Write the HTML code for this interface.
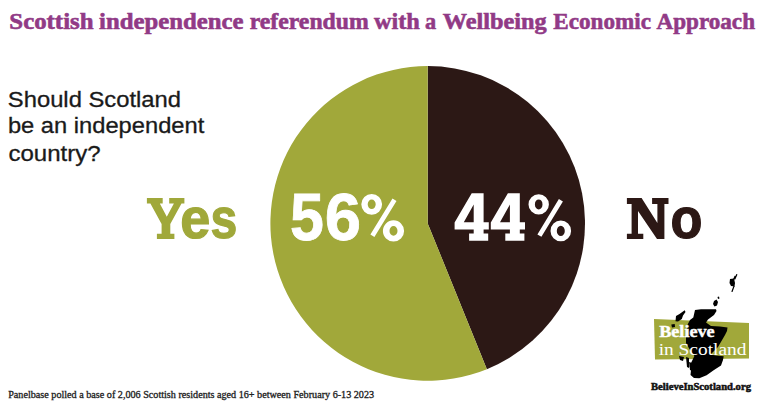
<!DOCTYPE html>
<html><head><meta charset="utf-8">
<style>
html,body{margin:0;padding:0;background:#fff;width:768px;height:410px;overflow:hidden;position:relative}
.t{position:absolute;white-space:nowrap;line-height:1;margin:0;transform-origin:0 0}
svg{position:absolute;left:0;top:0}
</style></head><body>
<svg width="768" height="410" viewBox="0 0 768 410">
  <path d="M427.7 223.4 L427.7 66.10 A157.3 157.3 0 0 1 486.88 369.14 Z" fill="#2c1815"/>
  <path d="M427.7 223.4 L486.88 369.14 A157.3 157.3 0 1 1 427.7 66.10 Z" fill="#a1a83a"/>
  <polygon points="654,319 749,323 749,358.5 655,359.5" fill="#a1a83a"/>
  <g fill="#000">
    <polygon points="695,310 701,309.3 716,309.3 716.5,311 714,315 708,319.5 706,322.5 711,326 720,326.5 727.5,327.5 727,331 725,335 718,347 710.5,354.5 716,355.5 723.7,356.3 723,360 721,365.5 714,370 706.6,375.2 699.3,378.3 694,378 690.5,375 691,370 689.5,366 692,361 694.4,356 690,350 686,343 686,337 687.4,325 690,320 693.3,317.5"/>
    <polygon points="684.7,310.3 685.5,312 683,315.5 681.8,319 678,321.5 675.5,321.2 676,316 679.5,314"/>
    <polygon points="671.3,324.5 674.7,324 675,327 672,327.5"/>
    <polygon points="679,356 684,357 683,361 680,360"/>
    <polygon points="686,357 689,358 689,368 687,367"/>
    <polygon points="689,362 692,363 692,371 690,370"/>
    <polygon points="714,301 716.5,299.5 718,302 717,305.5 714.5,306.5 713,304"/><polygon points="717.5,297 719,296.5 719.5,298.5 718,299"/>
    <polygon points="730,279 734,278.5 735,283 734.5,286.5 731,286 729.5,283"/>
    <path d="M736.9 274.3 L734.7 279.3 M735.2 276 L733 281 M734.1 285.9 L731.9 291.9" stroke="#000" stroke-width="1.3" fill="none"/>
  </g>
  <path id="pct" fill="#fff" fill-rule="evenodd" d="M361.30 204.30a10.4 10.4 0 1 0 20.8 0a10.4 10.4 0 1 0 -20.8 0ZM367.70 204.30a4.0 4.8 0 1 0 8.0 0a4.0 4.8 0 1 0 -8.0 0ZM382.90 230.90a10.6 10.6 0 1 0 21.2 0a10.6 10.6 0 1 0 -21.2 0ZM389.50 230.90a4.0 4.8 0 1 0 8.0 0a4.0 4.8 0 1 0 -8.0 0ZM374.40 236.93 L396.50 201.03 L392.50 198.57 L370.40 234.47ZM528.50 204.40a10.2 10.2 0 1 0 20.4 0a10.2 10.2 0 1 0 -20.4 0ZM534.90 204.40a3.8 5.0 0 1 0 7.6 0a3.8 5.0 0 1 0 -7.6 0ZM550.50 230.90a10.3 10.3 0 1 0 20.6 0a10.3 10.3 0 1 0 -20.6 0ZM556.80 230.90a4.0 5.2 0 1 0 8.0 0a4.0 5.2 0 1 0 -8.0 0ZM541.41 236.82 L562.91 201.52 L558.89 199.08 L537.39 234.38Z"/>
  <path id="four" fill="#fff" fill-rule="evenodd" d="M471.7 193.3 L483.6 193.3 L483.6 222.2 L488.8 222.2 L488.8 229.5 L483.6 229.5 L483.6 233.4 L488.2 233.4 L488.2 240.7 L469.1 240.7 L469.1 233.4 L473.7 233.4 L473.7 229.5 L454.6 229.5 L454.6 222.5ZM473.7 204.5 L473.7 222.2 L463.8 222.2ZM507.9 193.3 L519.8 193.3 L519.8 222.2 L525.0 222.2 L525.0 229.5 L519.8 229.5 L519.8 233.4 L524.4 233.4 L524.4 240.7 L505.3 240.7 L505.3 233.4 L509.9 233.4 L509.9 229.5 L490.8 229.5 L490.8 222.5ZM509.9 204.5 L509.9 222.2 L500.0 222.2Z"/>
  <path id="glY" fill="#a0a83a" d="M146.9 198.1 L162.7 198.1 L162.7 203.4 L159.8 203.4 L166.8 216.8 L173.9 203.4 L169.2 203.4 L169.2 198.1 L184.4 198.1 L184.4 203.4 L181.5 203.4 L170.3 223.9 L170.3 233.8 L174.4 233.8 L174.4 239.1 L156.9 239.1 L156.9 233.8 L161.6 233.8 L161.6 223.9 L150.4 203.4 L146.9 203.4Z"/>
  <path id="glN" fill="#2c1815" d="M626.9 198.1 L641.6 198.1 L657.4 223.0 L657.4 204.0 L652.1 204.0 L652.1 198.1 L668.5 198.1 L668.5 204.0 L664.4 204.0 L664.4 239.1 L657.0 239.1 L638.0 211.0 L638.0 233.8 L643.3 233.8 L643.3 239.1 L626.9 239.1 L626.9 233.8 L631.6 233.8 L631.6 204.0 L626.9 204.0Z"/>
</svg>

<div class="t" id="tw0" style="left:0;top:0;font-family:'Liberation Serif',serif;font-size:23.60px;font-weight:700;color:#913a86;-webkit-text-stroke:0.6px #913a86;transform:translate(9.33px,9.50px) scaleX(1.0529);">Scottish</div>
<div class="t" id="tw1" style="left:0;top:0;font-family:'Liberation Serif',serif;font-size:23.60px;font-weight:700;color:#913a86;-webkit-text-stroke:0.6px #913a86;transform:translate(99.02px,9.50px) scaleX(1.0489);">independence</div>
<div class="t" id="tw2" style="left:0;top:0;font-family:'Liberation Serif',serif;font-size:23.60px;font-weight:700;color:#913a86;-webkit-text-stroke:0.6px #913a86;transform:translate(249.67px,9.50px) scaleX(1.0061);">referendum</div>
<div class="t" id="tw3" style="left:0;top:0;font-family:'Liberation Serif',serif;font-size:23.60px;font-weight:700;color:#913a86;-webkit-text-stroke:0.6px #913a86;transform:translate(373.89px,9.50px) scaleX(1.0296);">with</div>
<div class="t" id="tw4" style="left:0;top:0;font-family:'Liberation Serif',serif;font-size:23.60px;font-weight:700;color:#913a86;-webkit-text-stroke:0.6px #913a86;transform:translate(424.95px,9.50px) scaleX(0.9441);">a</div>
<div class="t" id="tw5" style="left:0;top:0;font-family:'Liberation Serif',serif;font-size:23.60px;font-weight:700;color:#913a86;-webkit-text-stroke:0.6px #913a86;transform:translate(442.71px,9.50px) scaleX(1.0294);">Wellbeing</div>
<div class="t" id="tw6" style="left:0;top:0;font-family:'Liberation Serif',serif;font-size:23.60px;font-weight:700;color:#913a86;-webkit-text-stroke:0.6px #913a86;transform:translate(553.33px,9.50px) scaleX(0.9795);">Economic</div>
<div class="t" id="tw7" style="left:0;top:0;font-family:'Liberation Serif',serif;font-size:23.60px;font-weight:700;color:#913a86;-webkit-text-stroke:0.6px #913a86;transform:translate(656.49px,9.50px) scaleX(0.9800);">Approach</div>
<div class="t" id="q1" style="left:0;top:0;font-family:'Liberation Sans',sans-serif;font-size:22.00px;font-weight:400;color:#1a1a1a;-webkit-text-stroke:0.3px #1a1a1a;transform:translate(7.83px,89.05px) scaleX(1.0808);">Should Scotland</div>
<div class="t" id="q2" style="left:0;top:0;font-family:'Liberation Sans',sans-serif;font-size:22.00px;font-weight:400;color:#1a1a1a;-webkit-text-stroke:0.3px #1a1a1a;transform:translate(7.94px,115.18px) scaleX(1.0769);">be an independent</div>
<div class="t" id="q3" style="left:0;top:0;font-family:'Liberation Sans',sans-serif;font-size:22.00px;font-weight:400;color:#1a1a1a;-webkit-text-stroke:0.3px #1a1a1a;transform:translate(8.42px,142.72px) scaleX(1.0925);">country?</div>
<div class="t" id="ye" style="left:0;top:0;font-family:'Liberation Sans',sans-serif;font-size:57.74px;font-weight:700;color:#a0a83a;-webkit-text-stroke:1.2px #a0a83a;transform:translate(180.28px,189.89px) scaleX(0.9352);">e</div>
<div class="t" id="ys" style="left:0;top:0;font-family:'Liberation Sans',sans-serif;font-size:56.99px;font-weight:700;color:#a0a83a;-webkit-text-stroke:1.2px #a0a83a;transform:translate(210.38px,189.86px) scaleX(0.8451);">s</div>
<div class="t" id="d5" style="left:0;top:0;font-family:'Liberation Sans',sans-serif;font-size:67.35px;font-weight:700;color:#ffffff;-webkit-text-stroke:0.8px #ffffff;transform:translate(290.06px,183.48px) scaleX(0.9044);">5</div>
<div class="t" id="d6" style="left:0;top:0;font-family:'Liberation Sans',sans-serif;font-size:67.59px;font-weight:700;color:#ffffff;-webkit-text-stroke:0.8px #ffffff;transform:translate(324.81px,182.91px) scaleX(0.9657);">6</div>
<div class="t" id="no" style="left:0;top:0;font-family:'Liberation Sans',sans-serif;font-size:57.11px;font-weight:700;color:#2c1815;-webkit-text-stroke:1.2px #2c1815;transform:translate(670.38px,190.44px) scaleX(0.9160);">o</div>
<div class="t" id="foot" style="left:0;top:0;font-family:'Liberation Serif',serif;font-size:9.65px;font-weight:400;color:#1e1e1e;-webkit-text-stroke:0.3px #1e1e1e;transform:translate(8.19px,390.10px) scaleX(1.0543);">Panelbase polled a base of 2,006 Scottish residents aged 16+ between February 6-13 2023</div>
<div class="t" id="lb1" style="left:0;top:0;font-family:'Liberation Serif',serif;font-size:16.20px;font-weight:700;color:#ffffff;-webkit-text-stroke:0.4px #ffffff;transform:translate(659.19px,324.00px) scaleX(1.1211);">Believe</div>
<div class="t" id="lb2" style="left:0;top:0;font-family:'Liberation Serif',serif;font-size:16.60px;font-weight:400;color:#ffffff;transform:translate(658.65px,341.64px) scaleX(1.1680);">in Scotland</div>
<div class="t" id="lb3" style="left:0;top:0;font-family:'Liberation Serif',serif;font-size:10.08px;font-weight:700;color:#111111;-webkit-text-stroke:0.5px #111111;transform:translate(651.01px,381.79px) scaleX(1.0529);">BelieveInScotland.org</div>
</body></html>
